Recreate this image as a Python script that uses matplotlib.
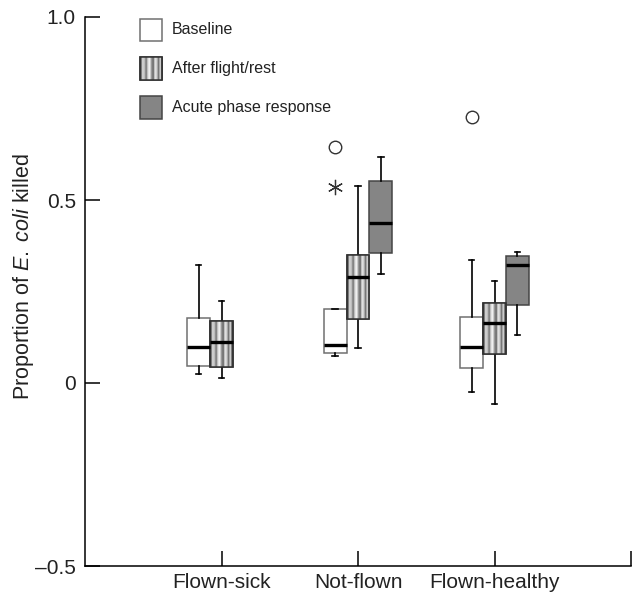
import matplotlib

matplotlib.use("Agg")

import matplotlib.pyplot as plt
import numpy as np
from matplotlib.patches import Rectangle

plt.rcParams["font.family"] = ["Liberation Sans", "DejaVu Sans"]
plt.rcParams["mathtext.fontset"] = "custom"
plt.rcParams["mathtext.rm"] = "Liberation Sans"
plt.rcParams["mathtext.it"] = "Liberation Sans:italic"

# five-number summaries: whisker low, Q1, median, Q3, whisker high
groups = ["Flown-sick", "Not-flown", "Flown-healthy"]
baseline = [
    [0.025, 0.046, 0.097, 0.177, 0.322],
    [0.074, 0.083, 0.103, 0.202, 0.202],
    [-0.025, 0.041, 0.097, 0.180, 0.336],
]
after_flight = [
    [0.015, 0.044, 0.112, 0.170, 0.225],
    [0.096, 0.176, 0.290, 0.349, 0.539],
    [-0.057, 0.079, 0.164, 0.218, 0.280],
]
acute_phase = [
    None,
    [0.298, 0.356, 0.436, 0.553, 0.617],
    [0.131, 0.212, 0.322, 0.346, 0.359],
]
# outliers (baseline series): group index, value
outlier_groups = [1, 2]
outlier_values = [0.646, 0.726]
extreme_groups = [1]
extreme_values = [0.536]

series_labels = ["Baseline", "After flight/rest", "Acute phase response"]
y_ticks = [-0.5, 0, 0.5, 1.0]
y_tick_labels = ["\u20130.5", "0", "0.5", "1.0"]

# grey levels for the vertical stripe texture
stripe = np.array([
    0.30, 0.85, 0.75, 0.45, 0.85, 0.95, 0.60, 0.40, 0.90, 0.80, 0.45, 0.85, 0.30,
])

BOX_W = 0.168
styles = {
    0: dict(facecolor="white", edgecolor="#707070"),
    1: dict(facecolor="#d0d0d0", edgecolor="#404040"),
    2: dict(facecolor="#858585", edgecolor="#454545"),
}

fig = plt.figure(figsize=(6.37, 5.98), dpi=100)
ax = fig.add_axes([85 / 637, 32 / 598, 546 / 637, 549 / 598])


def add_stripes(patch, x0, x1, y0, y1, transform=None):
    kwargs = {} if transform is None else {"transform": transform}
    im = ax.imshow(
        stripe[None, :],
        cmap="gray",
        vmin=0,
        vmax=1,
        extent=[x0, x1, y0, y1],
        aspect="auto",
        interpolation="bilinear",
        zorder=3.2,
        **kwargs,
    )
    im.set_clip_path(patch)
    edge = Rectangle((x0, y0), x1 - x0, y1 - y0, fill=False,
                     edgecolor="#303030", linewidth=1.1, zorder=3.5, **kwargs)
    ax.add_patch(edge)


for s, series in enumerate([baseline, after_flight, acute_phase]):
    for g, summary in enumerate(series):
        if summary is None:
            continue
        lo, q1, med, q3, hi = summary
        pos = g + 1 + (s - 1) * BOX_W
        res = ax.bxp(
            [dict(whislo=lo, q1=q1, med=med, q3=q3, whishi=hi, fliers=[])],
            positions=[pos],
            widths=BOX_W,
            capwidths=0.04,
            patch_artist=True,
            manage_ticks=False,
            showfliers=False,
            boxprops=dict(linewidth=1.1, **styles[s]),
            medianprops=dict(color="black", linewidth=2.4, zorder=4),
            whiskerprops=dict(color="black", linewidth=1.2),
            capprops=dict(color="black", linewidth=1.2),
        )
        if s == 1:
            add_stripes(res["boxes"][0], pos - BOX_W / 2, pos + BOX_W / 2, q1, q3)

ax.plot([g + 1 - BOX_W for g in outlier_groups], outlier_values, "o",
        markersize=9, markerfacecolor="white", markeredgecolor="#333333",
        markeredgewidth=1.0, linestyle="none")
ax.plot([g + 1 - BOX_W for g in extreme_groups], extreme_values,
        marker=(6, 2, 0), markersize=11, color="#333333",
        markeredgewidth=0.9, linestyle="none")

ax.set_xticks([1, 2, 3, 4])
ax.set_xticklabels(groups + [""])
ax.set_yticks(y_ticks)
ax.set_yticklabels(y_tick_labels)
ax.tick_params(direction="in", length=11, width=1.1, labelsize=15,
               colors="black", labelcolor="#222222")
ax.tick_params(axis="y", pad=6.5)
ax.tick_params(axis="x", pad=5)
for side in ("top", "right"):
    ax.spines[side].set_visible(False)
for side in ("left", "bottom"):
    ax.spines[side].set_linewidth(1.1)

fig.text(24 / 637, 1 - 277 / 598, r"Proportion of $\mathit{E.\ coli}$ killed",
         rotation=90, ha="center", va="center", fontsize=15.5, color="#222222")

# legend drawn by hand
legend_rows = [0.9766, 0.906, 0.835]
for s, (label, yc) in enumerate(zip(series_labels, legend_rows)):
    x0, w, h = 0.1007, 0.0403, 0.0405
    patch = Rectangle((x0, yc - h / 2), w, h, transform=ax.transAxes,
                      linewidth=1.1, **styles[s])
    ax.add_patch(patch)
    if s == 1:
        add_stripes(patch, x0, x0 + w, yc - h / 2, yc + h / 2,
                    transform=ax.transAxes)
    ax.text(0.159, yc, label, transform=ax.transAxes, ha="left", va="center",
            fontsize=11.5, color="#222222")

ax.set_xlim(0, 4)
ax.set_ylim(-0.5, 1.0)

fig.savefig("out.png", dpi=100)
